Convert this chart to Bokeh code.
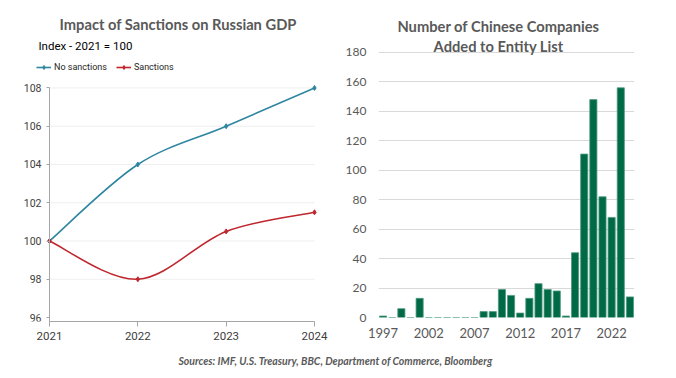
from bokeh.plotting import figure
from bokeh.models import Range1d, FixedTicker, Label, Legend, LegendItem
from bokeh.layouts import row, column
from bokeh.embed import file_html
from bokeh.resources import INLINE

# ---- data: left chart ----
gdp_years = [2021, 2022, 2023, 2024]
no_sanctions = [100, 104, 106, 108]
sanctions = [100, 98, 100.5, 101.5]
gdp_yticks = [96, 98, 100, 102, 104, 106, 108]

# ---- data: right chart ----
entity_years = [1997, 1998, 1999, 2000, 2001, 2002, 2003, 2004, 2005, 2006, 2007,
                2008, 2009, 2010, 2011, 2012, 2013, 2014, 2015, 2016, 2017, 2018,
                2019, 2020, 2021, 2022, 2023, 2024]
entity_counts = [1, 0, 6, 0, 13, 0, 0, 0, 0, 0, 0,
                 4, 4, 19, 15, 3, 13, 23, 19, 18, 1, 44,
                 111, 148, 82, 68, 156, 14]
entity_xticks = [1997, 2002, 2007, 2012, 2017, 2022]
entity_yticks = [0, 20, 40, 60, 80, 100, 120, 140, 160, 180]

TEAL = "#2F86A0"
RED = "#C0262D"
GREEN = "#006A47"
GRAY = "#595959"
NARROW = "Roboto"
SANS = "Lato"


def bezier_segments(xs, ys):
    n = len(xs)
    d = dict(x0=[], y0=[], x1=[], y1=[], cx0=[], cy0=[], cx1=[], cy1=[])
    for i in range(n - 1):
        a = max(i - 1, 0)
        b = min(i + 2, n - 1)
        d["x0"].append(xs[i]); d["y0"].append(ys[i])
        d["x1"].append(xs[i + 1]); d["y1"].append(ys[i + 1])
        d["cx0"].append(xs[i] + (xs[i + 1] - xs[a]) / 6)
        d["cy0"].append(ys[i] + (ys[i + 1] - ys[a]) / 6)
        d["cx1"].append(xs[i + 1] - (xs[b] - xs[i]) / 6)
        d["cy1"].append(ys[i + 1] - (ys[b] - ys[i]) / 6)
    return d


# ================= left chart =================
y_lo = 95.7922
p1 = figure(width=342, height=354, x_range=Range1d(2020.4453, 2024.317),
            y_range=Range1d(y_lo, 112.5714),
            min_border_left=0, min_border_right=0, min_border_top=0, min_border_bottom=31,
            output_backend="svg", toolbar_location=None)
p1.outline_line_color = None
p1.xgrid.grid_line_color = None
p1.ygrid.grid_line_color = None
p1.xaxis.ticker = FixedTicker(ticks=gdp_years)
p1.yaxis.ticker = FixedTicker(ticks=gdp_yticks)
p1.xaxis.bounds = (gdp_years[0], gdp_years[-1])
p1.yaxis.bounds = (y_lo, gdp_yticks[-1])
p1.yaxis.fixed_location = gdp_years[0]
for ax in (p1.xaxis, p1.yaxis):
    ax.axis_line_color = "#A6A6A6"
    ax.major_tick_line_color = "#A6A6A6"
    ax.minor_tick_line_color = None
    ax.major_tick_in = 0
    ax.major_label_text_color = "#404040"
    ax.major_label_text_font = NARROW
p1.xaxis.major_label_text_font_size = "11.5px"
p1.yaxis.major_label_text_font_size = "10.5px"
p1.xaxis.major_tick_out = 5
p1.yaxis.major_tick_out = 3
p1.xaxis.major_label_standoff = 5
p1.yaxis.major_label_standoff = 5

# faint horizontal gridlines between the axis ends
p1.segment(x0=gdp_years[0], x1=gdp_years[-1], y0=gdp_yticks[1:], y1=gdp_yticks[1:],
           line_color="#EFEFEF", line_width=1)

items = []
for ys, col, name in ((no_sanctions, TEAL, "No sanctions"), (sanctions, RED, "Sanctions")):
    seg = bezier_segments(gdp_years, ys)
    rb = p1.bezier(x0=seg["x0"], y0=seg["y0"], x1=seg["x1"], y1=seg["y1"],
                   cx0=seg["cx0"], cy0=seg["cy0"], cx1=seg["cx1"], cy1=seg["cy1"],
                   line_color=col, line_width=1.6)
    rs = p1.scatter(gdp_years, ys, size=5, marker="diamond", color=col)
    items.append(LegendItem(label=name, renderers=[rb, rs]))

legend = Legend(items=items, orientation="horizontal", location=(36, 249),
                label_text_font=NARROW, label_text_font_size="9px", label_text_color="#262626",
                glyph_width=15, glyph_height=10, label_height=10, label_standoff=3,
                spacing=9, padding=2, margin=0, border_line_color=None,
                background_fill_alpha=0)
p1.add_layout(legend)

p1.add_layout(Label(x=2022.456, y=111.36, text="Impact of Sanctions on Russian GDP",
                    text_align="center", text_baseline="alphabetic", text_font=SANS,
                    text_font_style="bold", text_font_size="14.7px", text_color=GRAY))
p1.add_layout(Label(x=2020.875, y=110.2, text="Index - 2021 = 100",
                    text_align="left", text_baseline="alphabetic", text_font=NARROW,
                    text_font_size="11.5px", text_color="#000000"))

# ================= right chart (frame reaches the top of the figure) =================
p2 = figure(width=334, height=350, x_range=Range1d(1996.5, 2024.5), y_range=Range1d(0, 215.32),
            min_border_left=34, min_border_right=42, min_border_top=0, min_border_bottom=33,
            output_backend="svg", toolbar_location=None)
p2.outline_line_color = None
p2.xgrid.grid_line_color = None
p2.ygrid.grid_line_color = "#D9D9D9"
p2.xaxis.ticker = FixedTicker(ticks=entity_xticks)
p2.yaxis.ticker = FixedTicker(ticks=entity_yticks)
for ax in (p2.xaxis, p2.yaxis):
    ax.axis_line_color = None
    ax.major_tick_line_color = None
    ax.minor_tick_line_color = None
    ax.major_tick_in = 0
    ax.major_tick_out = 0
    ax.major_label_text_font = SANS
    ax.major_label_text_font_size = "12px"
    ax.major_label_text_color = GRAY
p2.xaxis.major_label_text_font_size = "13px"
p2.xaxis.major_label_standoff = 10
p2.yaxis.major_label_standoff = 12

p2.vbar(x=entity_years, top=entity_counts, width=0.78, fill_color=GREEN,
        line_color="#4F9A7F", line_width=0.8)

p2.add_layout(Label(x=2009.63, y=197.66, text="Number of Chinese Companies",
                    text_align="center", text_baseline="alphabetic", text_font=SANS,
                    text_font_style="bold", text_font_size="14.7px", text_color=GRAY))
p2.add_layout(Label(x=2009.63, y=184.28, text="Added to Entity List",
                    text_align="center", text_baseline="alphabetic", text_font=SANS,
                    text_font_style="bold", text_font_size="14.7px", text_color=GRAY))

# ================= footer =================
p3 = figure(width=676, height=24, x_range=Range1d(0, 676), y_range=Range1d(0, 24),
            x_axis_type=None, y_axis_type=None, min_border=0,
            output_backend="svg", toolbar_location=None)
p3.outline_line_color = None
p3.xgrid.grid_line_color = None
p3.ygrid.grid_line_color = None
p3.add_layout(Label(x=335, y=18, text="Sources: IMF, U.S. Treasury, BBC, Department of Commerce, Bloomberg",
                    text_align="center", text_baseline="middle", text_font=SANS,
                    text_font_style="bold italic", text_font_size="10.5px", text_color=GRAY))

layout = column(row(p1, p2), p3)
open("out.html", "w").write(file_html(layout, INLINE))
